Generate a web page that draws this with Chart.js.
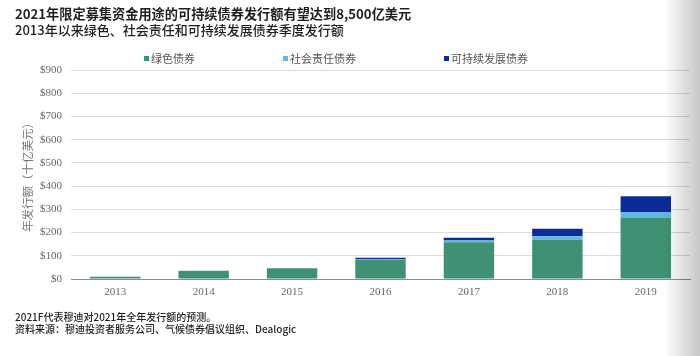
<!DOCTYPE html>
<html>
<head>
<meta charset="utf-8">
<script src="https://cdn.jsdelivr.net/npm/chart.js@4/dist/chart.umd.min.js"></script>
<style>
  html, body { margin: 0; padding: 0; background: #fff; }
  #wrap { position: relative; width: 700px; height: 356px; overflow: hidden; background: #fff; }
  #c { position: absolute; left: 0; top: 0; }
  .txt { position: absolute; font-family: "Noto Sans CJK SC", "Noto Sans", sans-serif; color: #1e1e1e; white-space: nowrap; }
  #title { left: 15px; top: 4px; font-size: 13.2px; font-weight: 700; }
  #subtitle { left: 15px; top: 20px; font-size: 13px; font-weight: 500; }
  #note1 { left: 15px; top: 309px; font-size: 10px; font-weight: 500; }
  #note2 { left: 15px; top: 321px; font-size: 10px; font-weight: 500; }
  #legend { position: absolute; left: 144px; top: 50px; height: 16px; display: flex; align-items: center; gap: 88px;
            font-family: "Noto Sans CJK SC", serif; font-size: 11px; color: #555; }
  .li { display: flex; align-items: center; }
  .sw { width: 5px; height: 5px; margin-right: 2px; }
  #shade { position: absolute; right: 0; top: 0; width: 36px; height: 356px;
           background: linear-gradient(to right, rgba(0,0,0,0), rgba(0,0,0,0.22)); pointer-events: none; }
</style>
</head>
<body>
<div id="wrap">
  <canvas id="c" width="700" height="356"></canvas>
  <div id="title" class="txt">2021年限定募集资金用途的可持续债券发行额有望达到8,500亿美元</div>
  <div id="subtitle" class="txt">2013年以来绿色、社会责任和可持续发展债券季度发行额</div>
  <div id="legend"></div>
  <div id="note1" class="txt">2021F代表穆迪对2021年全年发行额的预测。</div>
  <div id="note2" class="txt">资料来源：穆迪投资者服务公司、气候债券倡议组织、Dealogic</div>
  <div id="shade"></div>
</div>
<script>
// ---- data ----
const years = ["2013", "2014", "2015", "2016", "2017", "2018", "2019"];
const seriesNames = ["绿色债券", "社会责任债券", "可持续发展债券"];
const greenBonds = [10, 36, 46, 83, 158, 169, 265];
const socialBonds = [0, 0, 0, 2, 10, 15, 24];
const sustainabilityBonds = [0, 0, 0, 7, 10, 32, 67];
const yTicks = [0, 100, 200, 300, 400, 500, 600, 700, 800, 900];
const yAxisTitle = "年发行额（十亿美元）";
// ---- styles ----
const colors = ["#3e9172", "#64b6e2", "#0c2b98"];

const seriesValues = [greenBonds, socialBonds, sustainabilityBonds];

// legend
const lg = document.getElementById('legend');
seriesNames.forEach((n, i) => {
  const d = document.createElement('div'); d.className = 'li';
  const s = document.createElement('span'); s.className = 'sw'; s.style.background = colors[i];
  const t = document.createElement('span'); t.textContent = n;
  d.appendChild(s); d.appendChild(t); lg.appendChild(d);
});

new Chart(document.getElementById('c'), {
  type: 'bar',
  data: {
    labels: years,
    datasets: seriesNames.map((n, i) => ({
      label: n,
      data: seriesValues[i],
      backgroundColor: colors[i],
      borderWidth: 0,
      categoryPercentage: 1.0,
      barPercentage: 0.57
    }))
  },
  options: {
    responsive: false,
    animation: false,
    devicePixelRatio: 1,
    layout: { padding: { top: 70, right: 10, bottom: 0, left: 0 } },
    plugins: { legend: { display: false }, tooltip: { enabled: false } },
    scales: {
      x: {
        stacked: true,
        grid: { display: false, drawTicks: false },
        border: { display: true, color: '#8c8c8c', width: 1 },
        ticks: { color: '#666', padding: 7, font: { family: 'Liberation Serif', size: 11 } },
        afterFit: (s) => { s.height = 77; }
      },
      y: {
        stacked: true,
        min: 0, max: 900,
        afterBuildTicks: (s) => { s.ticks = yTicks.map(v => ({ value: v })); },
        grid: { color: '#dcdcdc', lineWidth: 1, drawTicks: false },
        border: { display: false },
        ticks: { color: '#666', padding: 9, font: { family: 'Liberation Serif', size: 11 },
                 callback: (v) => '$' + v },
        title: { display: true, text: yAxisTitle, color: '#777',
                 font: { family: "'Noto Sans CJK SC'", size: 11.5 }, padding: { top: 21, bottom: 0 } },
        afterFit: (s) => { s.width = 71; }
      }
    }
  }
});
</script>
</body>
</html>
